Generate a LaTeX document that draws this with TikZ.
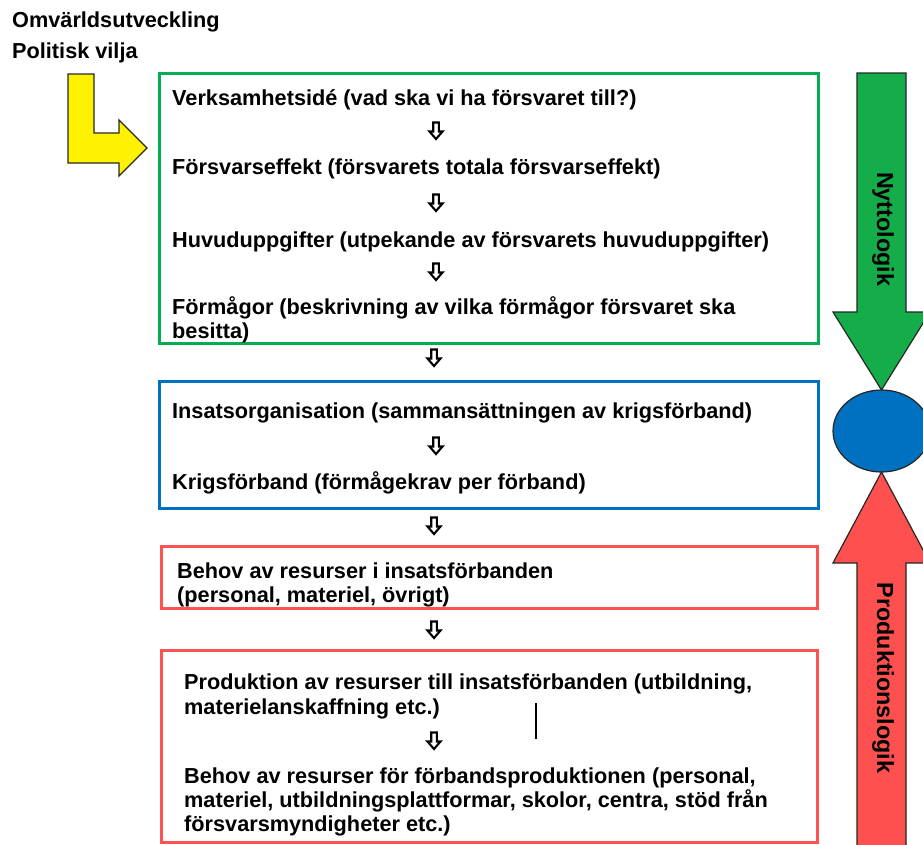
\documentclass[tikz,border=0pt]{standalone}
\usepackage{fontspec}
\setmainfont{Liberation Sans}
\usetikzlibrary{shapes.geometric}
\definecolor{frameGreen}{HTML}{00B050}
\definecolor{frameBlue}{HTML}{0070C0}
\definecolor{frameRed}{HTML}{FF5353}
\definecolor{arrowGreen}{HTML}{14AD4A}
\definecolor{arrowRed}{HTML}{FF5050}
\definecolor{hubBlue}{HTML}{0070C0}
\begin{document}
\begin{tikzpicture}[x=1pt,y=-1pt,
  frame/.style={draw, line width=3pt, inner sep=0pt, outer sep=0pt, anchor=north west},
  txt/.style={anchor=base west, inner sep=0pt, font=\fontsize{21.7}{24}\selectfont\bfseries},
  sidelabel/.style={inner sep=0pt, rotate=-90, font=\fontsize{23.3}{26}\selectfont\bfseries},
  bigarrow/.style={draw=black!85, line width=1.2pt, line join=miter},
  glyph/.style={draw=black, fill=white, line width=2.1pt, line join=miter},
  dnglyph/.pic={\path[glyph] (-2.8,-8.5) -- (2.8,-8.5) -- (2.8,0.5) -- (6.5,0.5) -- (0,8) -- (-6.5,0.5) -- (-2.8,0.5) -- cycle;}
]
\useasboundingbox (0,0) rectangle (923,844);
\clip (0,0) rectangle (923,844);

% input labels and the bent arrow leading into the top frame
\node[txt] (env) at (12,27) {Omvärldsutveckling};
\node[txt] (pol) at (12,58) {Politisk vilja};
\draw[bigarrow, fill=yellow] (68,74) -- (94,74) -- (94,133) -- (119,133) -- (119,120)
  -- (147,148) -- (119,176) -- (119,163) -- (68,163) -- cycle;

% frames
\node[frame, draw=frameGreen, minimum width=659pt, minimum height=270pt] (effekt) at (159,73) {};
\node[frame, draw=frameBlue,  minimum width=659pt, minimum height=127pt] (insats) at (159,381) {};
\node[frame, draw=frameRed,   minimum width=656pt, minimum height=62pt]  (behov)  at (161,546) {};
\node[frame, draw=frameRed,   minimum width=656pt, minimum height=192pt] (prod)   at (161,650) {};

% text inside the frames
\node[txt] (t1)  at (172,105) {Verksamhetsidé (vad ska vi ha försvaret till?)};
\node[txt] (t2)  at (172,174) {Försvarseffekt (försvarets totala försvarseffekt)};
\node[txt] (t3)  at (172,247) {Huvuduppgifter (utpekande av försvarets huvuduppgifter)};
\node[txt] (t4a) at (172,314) {Förmågor (beskrivning av vilka förmågor försvaret ska};
\node[txt] (t4b) at (172,338) {besitta)};
\node[txt] (t5)  at (172,418) {Insatsorganisation (sammansättningen av krigsförband)};
\node[txt] (t6)  at (172,489) {Krigsförband (förmågekrav per förband)};
\node[txt] (t7a) at (177,578) {Behov av resurser i insatsförbanden};
\node[txt] (t7b) at (177,602) {(personal, materiel, övrigt)};
\node[txt] (t8a) at (184,689) {Produktion av resurser till insatsförbanden (utbildning,};
\node[txt] (t8b) at (184,714) {materielanskaffning etc.)};
\node[txt] (t9a) at (184,783) {Behov av resurser för förbandsproduktionen (personal,};
\node[txt] (t9b) at (184,807) {materiel, utbildningsplattformar, skolor, centra, stöd från};
\node[txt] (t9c) at (184,831) {försvarsmyndigheter etc.)};

% small down-arrow glyphs between steps
\pic (g1) at (436,131) {dnglyph};
\pic (g2) at (436,203) {dnglyph};
\pic (g3) at (436,272) {dnglyph};
\pic (g4) at (434,358) {dnglyph};
\pic (g5) at (436,446) {dnglyph};
\pic (g6) at (434,526) {dnglyph};
\pic (g7) at (434,630) {dnglyph};
\pic (g8) at (434,741) {dnglyph};

% text cursor mark
\draw[line width=2.2pt] (536,703) -- (536,739);

% right-hand logic arrows meeting at the hub
\draw[bigarrow, fill=arrowGreen] (857,73) -- (906,73) -- (906,312) -- (930,312)
  -- (881.5,390) -- (833,312) -- (857,312) -- cycle;
\draw[bigarrow, fill=arrowRed] (857,850) -- (857,563) -- (833,563) -- (881.5,472)
  -- (930,563) -- (906,563) -- (906,850) -- cycle;
\node[ellipse, draw=black!85, line width=1.2pt, fill=hubBlue, inner sep=0pt,
  minimum width=97pt, minimum height=82pt] (hub) at (881.5,431) {};
\node[sidelabel] (nytta) at (883,229) {Nyttologik};
\node[sidelabel] (produktion) at (883,678) {Produktionslogik};
\end{tikzpicture}
\end{document}
